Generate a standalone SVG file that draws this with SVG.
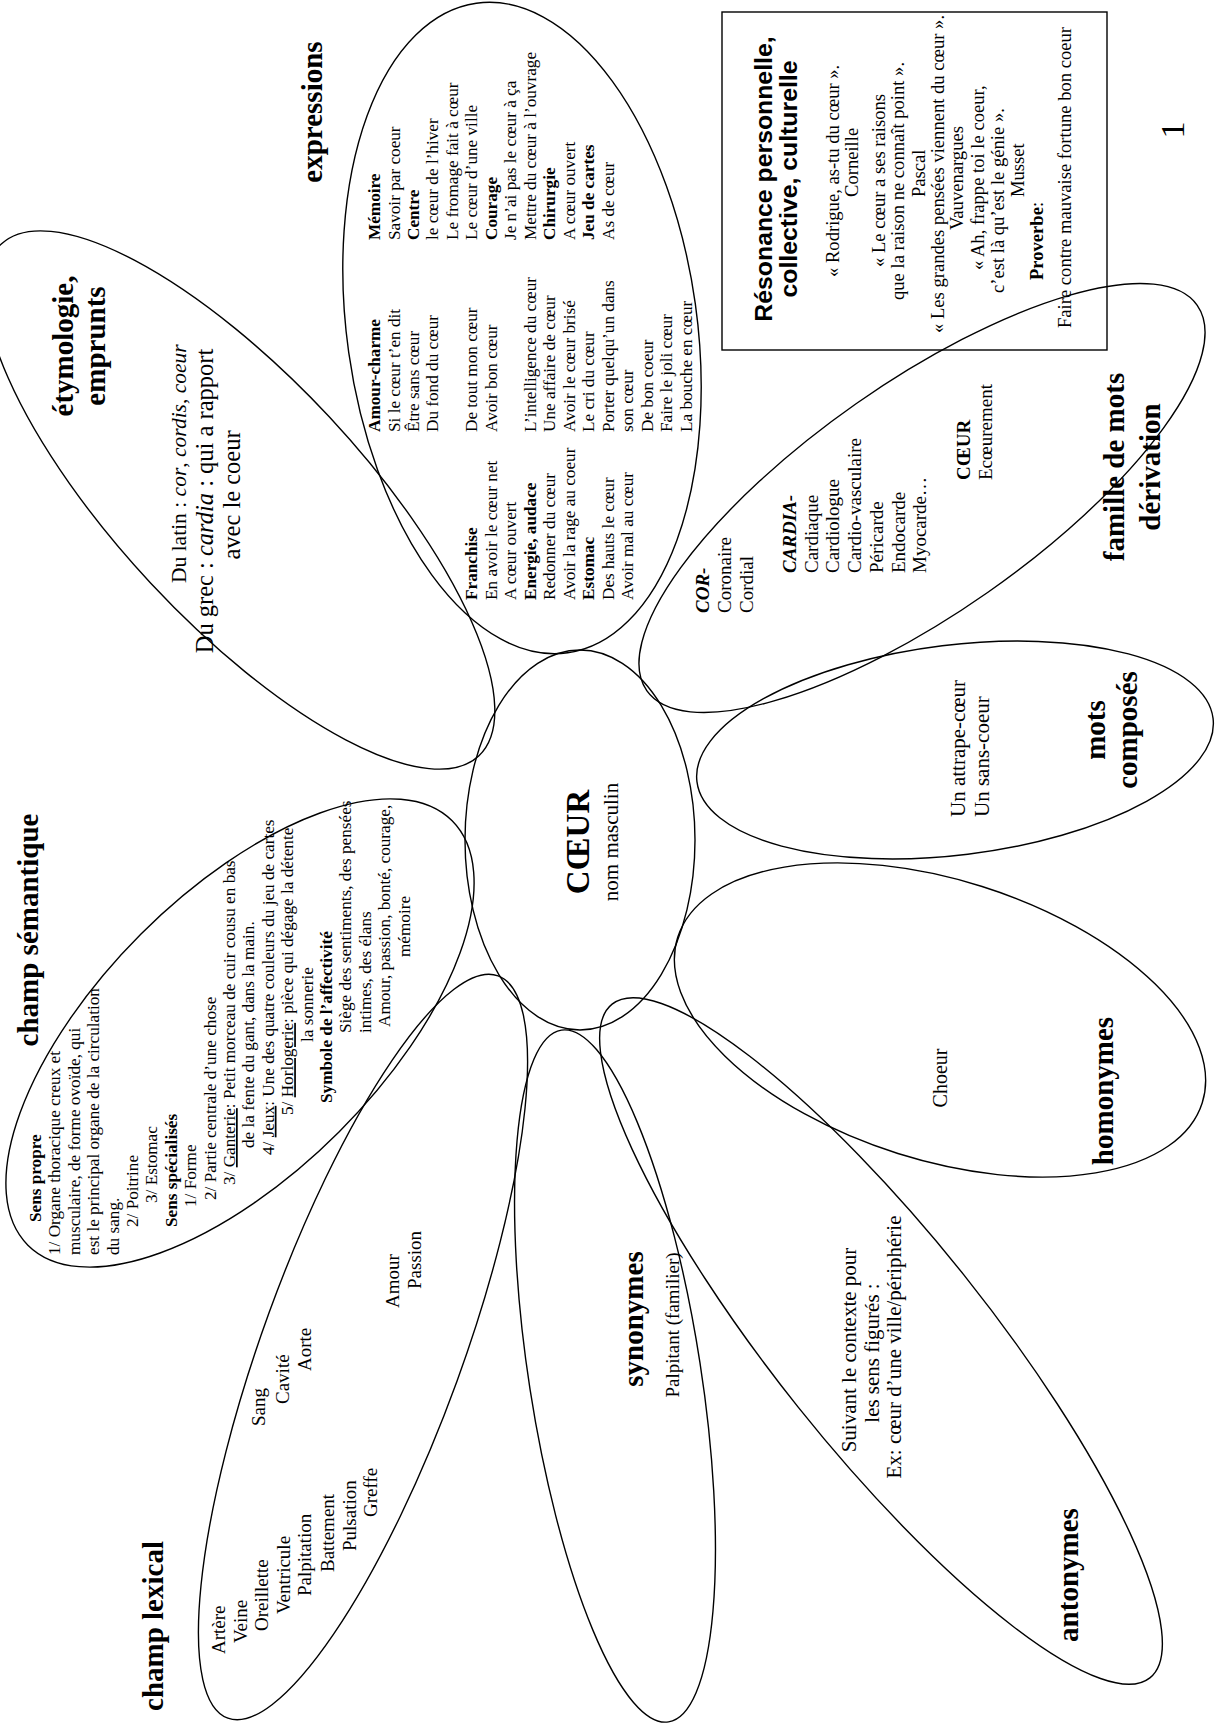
<svg xmlns="http://www.w3.org/2000/svg" width="1219" height="1724" viewBox="0 0 1219 1724">
<style>
.e{fill:none;stroke:#000;stroke-width:1.4}
text{font-family:"Liberation Serif","Times New Roman",serif;fill:#000}
.sm{font-size:17.2px}
.md{font-size:19px}
.lg{font-size:21px}
.bx{font-size:18.6px}
.b{font-weight:bold}
.i{font-style:italic}
.ttl{font-size:29px;font-weight:bold}
.m{text-anchor:middle}
.sans{font-family:"Liberation Sans",Arial,sans-serif}
.u{text-decoration:underline}
</style>
<rect width="1219" height="1724" fill="#fff"/>
<g id="connectors"></g>

<g id="coeur">
<ellipse class="e" cx="580" cy="840" rx="115" ry="190"/>
<g transform="translate(0,1724) rotate(-90)">
<text class="b m" x="882" y="589" font-size="33">CŒUR</text>
<text class="m" x="882" y="618" font-size="21">nom masculin</text>
</g>
</g>

<g id="champ-semantique">
<ellipse class="e" cx="240" cy="1033" rx="300" ry="140" transform="rotate(-45 240 1033)"/>
<g transform="translate(0,1724) rotate(-90)">
<text class="ttl m" x="794" y="38">champ sémantique</text>
<g class="sm">
<text class="b" x="502" y="41">Sens propre</text>
<text x="469" y="60.4">1/ Organe thoracique creux et</text>
<text x="469" y="79.8">musculaire, de forme ovoïde, qui</text>
<text x="469" y="99.2">est le principal organe de la  circulation</text>
<text x="469" y="118.6">du sang.</text>
<text x="497" y="138">2/ Poitrine</text>
<text x="521" y="157.4">3/  Estomac</text>
<text class="b" x="497" y="176.8">Sens spécialisés</text>
<text x="517" y="196.2">1/ Forme</text>
<text x="524" y="215.6">2/  Partie centrale d’une chose</text>
<text x="539" y="235">3/ <tspan class="u">Ganterie</tspan>: Petit morceau de cuir cousu en bas</text>
<text x="576" y="254.4">de la fente du gant, dans la main.</text>
<text x="569" y="273.8">4/ <tspan class="u">Jeux</tspan>: Une des quatre couleurs du jeu de cartes</text>
<text x="609" y="293.2">5/ <tspan class="u">Horlogerie</tspan>: pièce qui dégage la détente</text>
<text x="682" y="312.6">la sonnerie</text>
<text class="b" x="621" y="332">Symbole de l’affectivité</text>
<text x="691" y="351.4">Siège des sentiments, des pensées</text>
<text x="691" y="370.8">intimes, des élans</text>
<text x="697" y="390.2">Amour, passion, bonté, courage,</text>
<text x="767" y="409.6">mémoire</text>
</g>
</g>
</g>

<g id="expressions">
<ellipse class="e" cx="522" cy="328" rx="175" ry="328" transform="rotate(-8 522 328)"/>
<g transform="translate(0,1724) rotate(-90)">
<text class="ttl m" x="1612" y="322">expressions</text>
<g class="sm">
<text class="b" x="1124" y="477.4">Franchise</text>
<text x="1124" y="496.8">En avoir le cœur net</text>
<text x="1124" y="516.3">A cœur ouvert</text>
<text class="b" x="1124" y="535.8">Energie, audace</text>
<text x="1124" y="555.2">Redonner du cœur</text>
<text x="1124" y="574.7">Avoir la rage au coeur</text>
<text class="b" x="1124" y="594.2">Estomac</text>
<text x="1124" y="613.6">Des hauts le cœur</text>
<text x="1124" y="633.1">Avoir mal au cœur</text>

<text class="b" x="1292" y="380">Amour-charme</text>
<text x="1292" y="399.5">Si le cœur t’en dit</text>
<text x="1292" y="418.9">Être sans cœur</text>
<text x="1292" y="438.4">Du fond du cœur</text>
<text x="1292" y="477.4">De tout mon cœur</text>
<text x="1292" y="496.8">Avoir bon cœur</text>
<text x="1292" y="535.8">L’intelligence du cœur</text>
<text x="1292" y="555.2">Une affaire de cœur</text>
<text x="1292" y="574.7">Avoir le cœur brisé</text>
<text x="1292" y="594.2">Le cri du cœur</text>
<text x="1292" y="613.6">Porter quelqu’un dans</text>
<text x="1292" y="633.1">son cœur</text>
<text x="1292" y="652.6">De bon coeur</text>
<text x="1292" y="672.1">Faire le joli cœur</text>
<text x="1292" y="691.5">La bouche en cœur</text>

<text class="b" x="1484" y="380">Mémoire</text>
<text x="1484" y="399.5">Savoir par coeur</text>
<text class="b" x="1484" y="418.9">Centre</text>
<text x="1484" y="438.4">le cœur de l’hiver</text>
<text x="1484" y="457.9">Le fromage fait à cœur</text>
<text x="1484" y="477.4">Le cœur d’une ville</text>
<text class="b" x="1484" y="496.8">Courage</text>
<text x="1484" y="516.3">Je n’ai pas le cœur à ça</text>
<text x="1484" y="535.8">Mettre du cœur à l’ouvrage</text>
<text class="b" x="1484" y="555.2">Chirurgie</text>
<text x="1484" y="574.7">A cœur ouvert</text>
<text class="b" x="1484" y="594.2">Jeu de cartes</text>
<text x="1484" y="613.6">As de cœur</text>
</g>
</g>
</g>

<g id="etymologie">
<ellipse class="e" cx="240" cy="500" rx="350" ry="122" transform="rotate(47 240 500)"/>
<g transform="translate(0,1724) rotate(-90)">
<text class="ttl m" x="1378" y="73">étymologie,</text>
<text class="ttl m" x="1378" y="105">emprunts</text>
<text x="1141" y="186" font-size="21.5">Du latin : <tspan class="i">cor</tspan>, <tspan class="i">cordis</tspan>, <tspan class="i">coeur</tspan></text>
<text class="m" x="1223" y="213" font-size="24.5">Du grec : <tspan class="i">cardia</tspan> : qui a rapport</text>
<text class="m" x="1229" y="240" font-size="24.5">avec le coeur</text>
</g>
</g>

<g id="famille">
<ellipse class="e" cx="922" cy="498" rx="336" ry="115" transform="rotate(-35 922 498)"/>
<g transform="translate(0,1724) rotate(-90)">
<text class="ttl m" x="1257" y="1124">famille de mots</text>
<text class="ttl m" x="1257" y="1160">dérivation</text>
<g class="md">
<text class="b i" x="1111" y="709">COR-</text>
<text x="1111" y="731">Coronaire</text>
<text x="1111" y="752.5">Cordial</text>
<text class="b i" x="1151" y="796">CARDIA-</text>
<text x="1151" y="817.7">Cardiaque</text>
<text x="1151" y="839.4">Cardiologue</text>
<text x="1151" y="861.1">Cardio-vasculaire</text>
<text x="1151" y="882.8">Péricarde</text>
<text x="1151" y="904.5">Endocarde</text>
<text x="1151" y="926.2">Myocarde…</text>
<text class="b" x="1244" y="970">CŒUR</text>
<text x="1244" y="991.5">Ecœurement</text>
</g>
</g>
</g>

<g id="mots-composes">
<ellipse class="e" cx="955" cy="750" rx="260" ry="105" transform="rotate(-7 955 750)"/>
<g transform="translate(0,1724) rotate(-90)">
<text class="ttl m" x="994" y="1105">mots</text>
<text class="ttl m" x="994" y="1137">composés</text>
<text class="lg" x="907" y="965">Un attrape-cœur</text>
<text class="lg" x="907" y="989">Un sans-coeur</text>
</g>
</g>

<g id="homonymes">
<ellipse class="e" cx="940" cy="1020" rx="275" ry="140" transform="rotate(17.5 940 1020)"/>
<g transform="translate(0,1724) rotate(-90)">
<text class="ttl m" x="633" y="1113">homonymes</text>
<text class="m" x="646" y="947" font-size="20">Choeur</text>
</g>
</g>

<g id="antonymes">
<ellipse class="e" cx="881" cy="1341" rx="431" ry="106" transform="rotate(51.4 881 1341)"/>
<g transform="translate(0,1724) rotate(-90)">
<text class="ttl m" x="149" y="1078">antonymes</text>
<g class="lg">
<text class="m" x="374" y="856">Suivant le contexte pour</text>
<text class="m" x="371" y="879">les sens figurés :</text>
<text class="m" x="377" y="901">Ex: cœur d’une ville/périphérie</text>
</g>
</g>
</g>

<g id="synonymes">
<ellipse class="e" cx="615" cy="1376" rx="350" ry="86" transform="rotate(81.2 615 1376)"/>
<g transform="translate(0,1724) rotate(-90)">
<text class="ttl m" x="405" y="643">synonymes</text>
<text class="m md" x="399" y="679">Palpitant (familier)</text>
</g>
</g>

<g id="champ-lexical">
<ellipse class="e" cx="363" cy="1347" rx="395" ry="100" transform="rotate(-70 363 1347)"/>
<g transform="translate(0,1724) rotate(-90)">
<text class="ttl m" x="98" y="163">champ lexical</text>
<g class="md">
<text x="70" y="225">Artère</text>
<text x="81" y="247">Veine</text>
<text x="93" y="268">Oreillette</text>
<text x="110" y="290">Ventricule</text>
<text x="128" y="311">Palpitation</text>
<text x="152" y="334">Battement</text>
<text x="173" y="356">Pulsation</text>
<text x="207" y="377">Greffe</text>
<text x="298" y="265">Sang</text>
<text x="320" y="289">Cavité</text>
<text x="353" y="311">Aorte</text>
<text x="416" y="399">Amour</text>
<text x="435" y="421">Passion</text>
</g>
</g>
</g>

<g id="resonance">
<rect x="722" y="12" width="385" height="338" fill="none" stroke="#000" stroke-width="1.4"/>
<g transform="translate(0,1724) rotate(-90)">
<text class="sans b m" x="1545" y="772" font-size="24.8">Résonance personnelle,</text>
<text class="sans b m" x="1545" y="797" font-size="24.8">collective, culturelle</text>
<g class="bx">
<text x="1447" y="839">« Rodrigue, as-tu du cœur ».</text>
<text x="1527" y="858">Corneille</text>
<text x="1457" y="885">« Le cœur a ses raisons</text>
<text x="1424" y="904">que la raison ne connaît point ».</text>
<text x="1527" y="925">Pascal</text>
<text x="1391" y="944">« Les grandes pensées viennent du cœur ».</text>
<text x="1494" y="963">Vauvenargues</text>
<text x="1454" y="984">« Ah, frappe toi le coeur,</text>
<text x="1431" y="1004">c’est là qu’est le génie ».</text>
<text x="1527" y="1024">Musset</text>
<text x="1444" y="1043"><tspan class="b">Proverbe</tspan>:</text>
<text x="1396" y="1071">Faire contre mauvaise fortune bon coeur</text>
</g>
</g>
</g>

<g id="page-number">
<g transform="translate(0,1724) rotate(-90)">
<text class="m" x="1594" y="1184" font-size="34">1</text>
</g>
</g>
</svg>
